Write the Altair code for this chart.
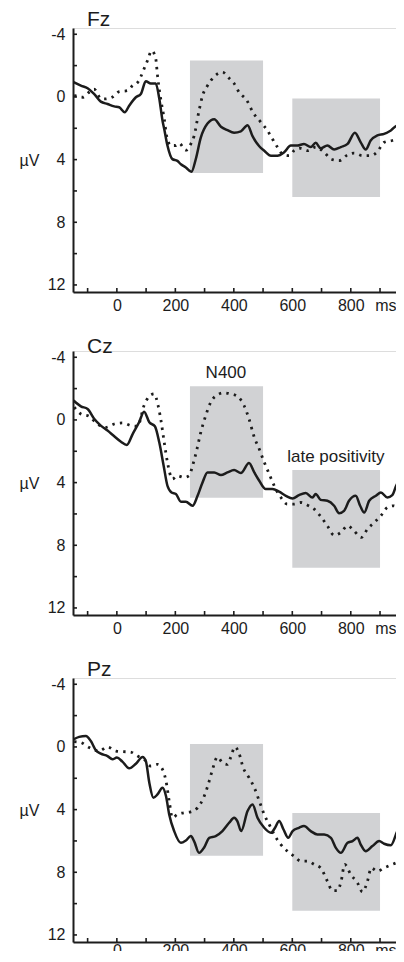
import altair as alt
import pandas as pd

FONT = "Liberation Sans"
INK = "#1c1c1c"
BOX = "#d1d2d4"

PANELS = ["Fz", "Cz", "Pz"]

# (time ms, amplitude µV)
FZ_SOLID = [(-148,-0.94),(-123,-0.72),(-100,-0.55),(-78,-0.19),(-55,0.3),(-32,0.45),(-9,0.6),(8,0.66),(27,0.98),(42,0.56),(65,0.02),(82,-0.19),(99,-1.0),(116,-0.86),(133,-0.86),(145,0.1),(156,1.5),(162,2.05),(173,3.1),(190,3.97),(207,4.08),(219,4.3),(236,4.5),(255,4.78),(270,3.96),(287,2.6),(310,1.7),(333,1.42),(356,1.9),(378,2.12),(401,2.28),(424,2.2),(447,1.8),(464,2.5),(487,3.15),(504,3.43),(527,3.75),(549,3.75),(572,3.53),(595,3.1),(618,3.1),(640,3.0),(663,3.2),(680,2.93),(697,3.28),(720,3.1),(743,3.36),(766,3.2),(789,3.0),(814,2.29),(834,2.9),(851,3.36),(868,2.78),(891,2.46),(914,2.36),(937,2.14),(960,1.82),(981,2.7)]
FZ_DOTTED = [(-146,-0.1),(-117,0.02),(-95,-0.3),(-78,-0.5),(-55,0.1),(-44,0.13),(-15,0.0),(8,-0.34),(36,-0.4),(54,-0.73),(70,-0.9),(82,-1.3),(96,-1.93),(105,-2.33),(119,-2.95),(133,-2.44),(139,-1.37),(150,0.13),(162,1.4),(171,2.56),(185,3.1),(200,3.1),(213,2.95),(236,3.4),(253,3.0),(264,2.5),(281,0.88),(293,-0.08),(310,-0.72),(333,-1.3),(361,-1.58),(384,-1.2),(401,-0.86),(418,-0.3),(444,0.2),(466,1.0),(492,1.6),(515,2.14),(532,2.68),(549,3.2),(566,3.64),(589,3.75),(606,3.43),(629,3.28),(652,3.43),(680,3.2),(709,3.53),(732,3.96),(760,4.07),(789,3.7),(811,3.58),(840,3.75),(868,3.75),(891,3.5),(914,2.9),(942,2.78),(971,2.63)]

CZ_SOLID = [(-148,-1.24),(-123,-0.87),(-100,-0.7),(-77,-0.06),(-55,0.36),(-32,0.68),(-9,1.04),(14,1.39),(34,1.6),(54,0.9),(76,0.15),(93,-0.53),(111,0.15),(130,0.4),(145,1.43),(160,2.92),(173,4.2),(187,4.63),(202,4.73),(219,5.22),(236,5.22),(259,5.48),(276,4.84),(293,3.99),(310,3.35),(333,3.35),(356,3.52),(378,3.35),(401,3.2),(424,3.39),(452,2.75),(470,3.35),(487,3.88),(509,4.41),(532,4.41),(555,4.58),(578,4.84),(601,5.01),(623,4.8),(646,4.67),(669,4.95),(680,4.73),(697,5.1),(720,5.16),(743,5.48),(760,5.95),(777,5.8),(794,5.16),(817,4.84),(832,5.48),(846,5.91),(863,5.16),(886,4.84),(903,4.63),(925,4.95),(942,4.8),(962,3.99),(983,4.95)]
CZ_DOTTED = [(-146,-0.81),(-123,-0.38),(-95,-0.23),(-66,0.26),(-38,0.47),(-9,0.26),(19,0.19),(48,0.36),(71,0.4),(93,-0.92),(111,-1.51),(128,-1.66),(141,-0.92),(150,-0.06),(162,1.43),(173,2.7),(190,3.77),(207,3.56),(230,3.67),(247,3.56),(259,2.92),(274,1.86),(287,0.79),(304,-0.28),(321,-1.13),(344,-1.6),(366,-1.73),(389,-1.66),(412,-1.51),(435,-0.92),(452,-0.06),(470,1.11),(487,1.86),(504,2.7),(521,3.45),(538,4.2),(561,4.95),(583,5.37),(606,5.37),(629,5.27),(652,5.44),(675,5.69),(697,6.16),(720,6.76),(743,7.36),(766,7.18),(789,6.76),(811,7.08),(836,7.5),(857,6.97),(880,6.55),(903,6.12),(925,5.59),(947,5.48),(971,5.95)]

PZ_SOLID = [(-148,-0.49),(-129,-0.64),(-106,-0.7),(-89,-0.38),(-72,0.21),(-55,0.43),(-32,0.58),(-15,0.79),(0,0.68),(19,0.94),(42,1.36),(65,1.07),(88,0.64),(99,0.9),(111,2.28),(125,3.24),(139,3.03),(156,2.6),(168,3.13),(179,4.31),(196,5.37),(219,6.12),(236,5.97),(253,5.69),(264,6.01),(281,6.76),(299,6.4),(316,5.8),(338,5.69),(361,5.37),(384,4.84),(401,4.52),(412,4.73),(425,5.37),(447,4.09),(464,3.67),(481,4.52),(504,5.16),(527,5.48),(541,5.16),(555,4.73),(570,5.27),(586,5.8),(601,5.37),(623,5.16),(640,5.05),(663,5.37),(686,5.59),(709,5.59),(732,5.8),(749,6.44),(766,6.76),(789,6.12),(806,6.01),(823,5.8),(834,6.23),(851,6.65),(874,6.33),(897,6.01),(914,6.18),(937,6.27),(966,5.2),(985,5.8)]
PZ_DOTTED = [(-146,-0.34),(-123,-0.28),(-95,0.04),(-60,0.26),(-32,0.0),(-3,0.26),(19,0.3),(46,0.32),(71,0.58),(93,0.79),(116,1.22),(139,1.11),(156,1.43),(168,2.17),(179,3.45),(190,4.52),(207,4.31),(230,4.2),(253,4.14),(276,3.88),(299,3.13),(316,2.17),(329,1.32),(344,0.64),(361,1.0),(378,1.11),(389,0.68),(404,0.0),(417,0.36),(432,1.32),(452,1.96),(470,2.6),(487,3.45),(504,4.31),(521,4.95),(538,5.59),(561,6.23),(583,6.65),(606,6.97),(629,7.29),(652,7.29),(675,7.5),(697,7.72),(720,8.57),(737,9.17),(754,9.17),(767,8.57),(779,7.5),(800,8.14),(823,8.68),(840,9.25),(857,8.57),(870,7.72),(891,7.93),(914,7.72),(942,7.5),(971,7.29)]

SERIES = {
    "Fz": (FZ_SOLID, FZ_DOTTED),
    "Cz": (CZ_SOLID, CZ_DOTTED),
    "Pz": (PZ_SOLID, PZ_DOTTED),
}

# grey analysis windows: (start ms, end ms, top µV, bottom µV)
BOXES = {
    "Fz": [(250, 500, -2.33, 4.85), (600, 900, 0.1, 6.38)],
    "Cz": [(250, 500, -2.15, 4.97), (600, 900, 3.2, 9.44)],
    "Pz": [(250, 500, -0.19, 6.95), (600, 900, 4.22, 10.45)],
}

LABELS = {"Cz": [(373, -3.0, "N400"), (749, 2.37, "late positivity")]}

X_TICKS = list(range(-100, 1000, 100))
Y_TICKS = list(range(-4, 14, 2))
X_LABELS = [0, 200, 400, 600, 800, 918]
Y_LABELS = [-4, 0, 4, 8, 12]

W, H = 331, 264
XDOM = [-150, 982]
YDOM = [-4.4, 12.45]

xs = alt.Scale(domain=XDOM, nice=False, zero=False)
ys = alt.Scale(domain=YDOM, nice=False, zero=False, reverse=True)


def panel(name, label_pad=5, title_offset=-4):
    solid, dotted = SERIES[name]
    sdf = pd.DataFrame(solid, columns=["t", "v"])
    ddf = pd.DataFrame(dotted, columns=["t", "v"])
    bdf = pd.DataFrame(BOXES[name], columns=["t1", "t2", "v1", "v2"])

    xaxis = alt.Axis(values=X_LABELS, labelExpr="datum.value == 918 ? 'ms' : datum.label",
                     ticks=False, tickSize=0, grid=False, title=None, labelPadding=label_pad,
                     labelFlush=False, labelOverlap=False, labelFont=FONT,
                     labelFontSize=16, labelColor=INK, domainColor=INK, domainWidth=2)
    yaxis = alt.Axis(values=Y_LABELS, labelExpr="datum.value < 0 ? '-' + abs(datum.value) : datum.label",
                     ticks=False, tickSize=0, grid=False, title="µV",
                     titleAngle=0, titleAlign="left", titleBaseline="middle",
                     titleX=-54, titleY=H / 2, titleFontSize=16, titleFontWeight="normal",
                     titleFont=FONT, titleColor=INK,
                     labelPadding=8, labelOverlap=False, labelFont=FONT,
                     labelFontSize=16, labelColor=INK, domainColor=INK, domainWidth=2)

    boxes = alt.Chart(bdf).mark_rect(color=BOX).encode(
        x=alt.X("t1:Q", scale=xs, axis=xaxis),
        x2="t2:Q",
        y=alt.Y("v1:Q", scale=ys, axis=yaxis),
        y2="v2:Q",
    )
    dline = alt.Chart(ddf).mark_line(color=INK, strokeWidth=2.8, strokeDash=[2.4, 5.2],
                                      interpolate="monotone", clip=True).encode(
        x=alt.X("t:Q", scale=xs), y=alt.Y("v:Q", scale=ys))
    sline = alt.Chart(sdf).mark_line(color=INK, strokeWidth=2.5, interpolate="monotone",
                                      clip=True).encode(
        x=alt.X("t:Q", scale=xs), y=alt.Y("v:Q", scale=ys))

    xt = alt.Chart(pd.DataFrame({"t": X_TICKS})).mark_rule(color=INK, strokeWidth=1.6).encode(
        x=alt.X("t:Q", scale=xs), y=alt.value(H), y2=alt.value(H - 4))
    yt = alt.Chart(pd.DataFrame({"v": Y_TICKS})).mark_rule(color=INK, strokeWidth=1.6).encode(
        y=alt.Y("v:Q", scale=ys), x=alt.value(0), x2=alt.value(4))

    layers = [boxes, dline, sline, xt, yt]
    if name in LABELS:
        ldf = pd.DataFrame(LABELS[name], columns=["t", "v", "txt"])
        layers.append(alt.Chart(ldf).mark_text(font=FONT, fontSize=17, color=INK,
                                                baseline="middle", align="center").encode(
            x=alt.X("t:Q", scale=xs), y=alt.Y("v:Q", scale=ys), text="txt:N"))

    return alt.layer(*layers).properties(
        width=W, height=H,
        title=alt.TitleParams(text=name, anchor="start", frame="group", dx=14,
                              fontSize=21, font=FONT, fontWeight="normal", color=INK,
                              offset=title_offset),
    )


chart = alt.vconcat(
    panel("Fz", title_offset=-4),
    panel("Cz", title_offset=-8),
    panel("Pz", label_pad=0, title_offset=-4),
    spacing=21,
).properties(
    padding={"left": 10, "top": 0, "right": -9, "bottom": -8}
).configure_view(stroke=None).configure(background="white")

chart.save("out.html", embed_options={"renderer": "svg", "actions": False})
